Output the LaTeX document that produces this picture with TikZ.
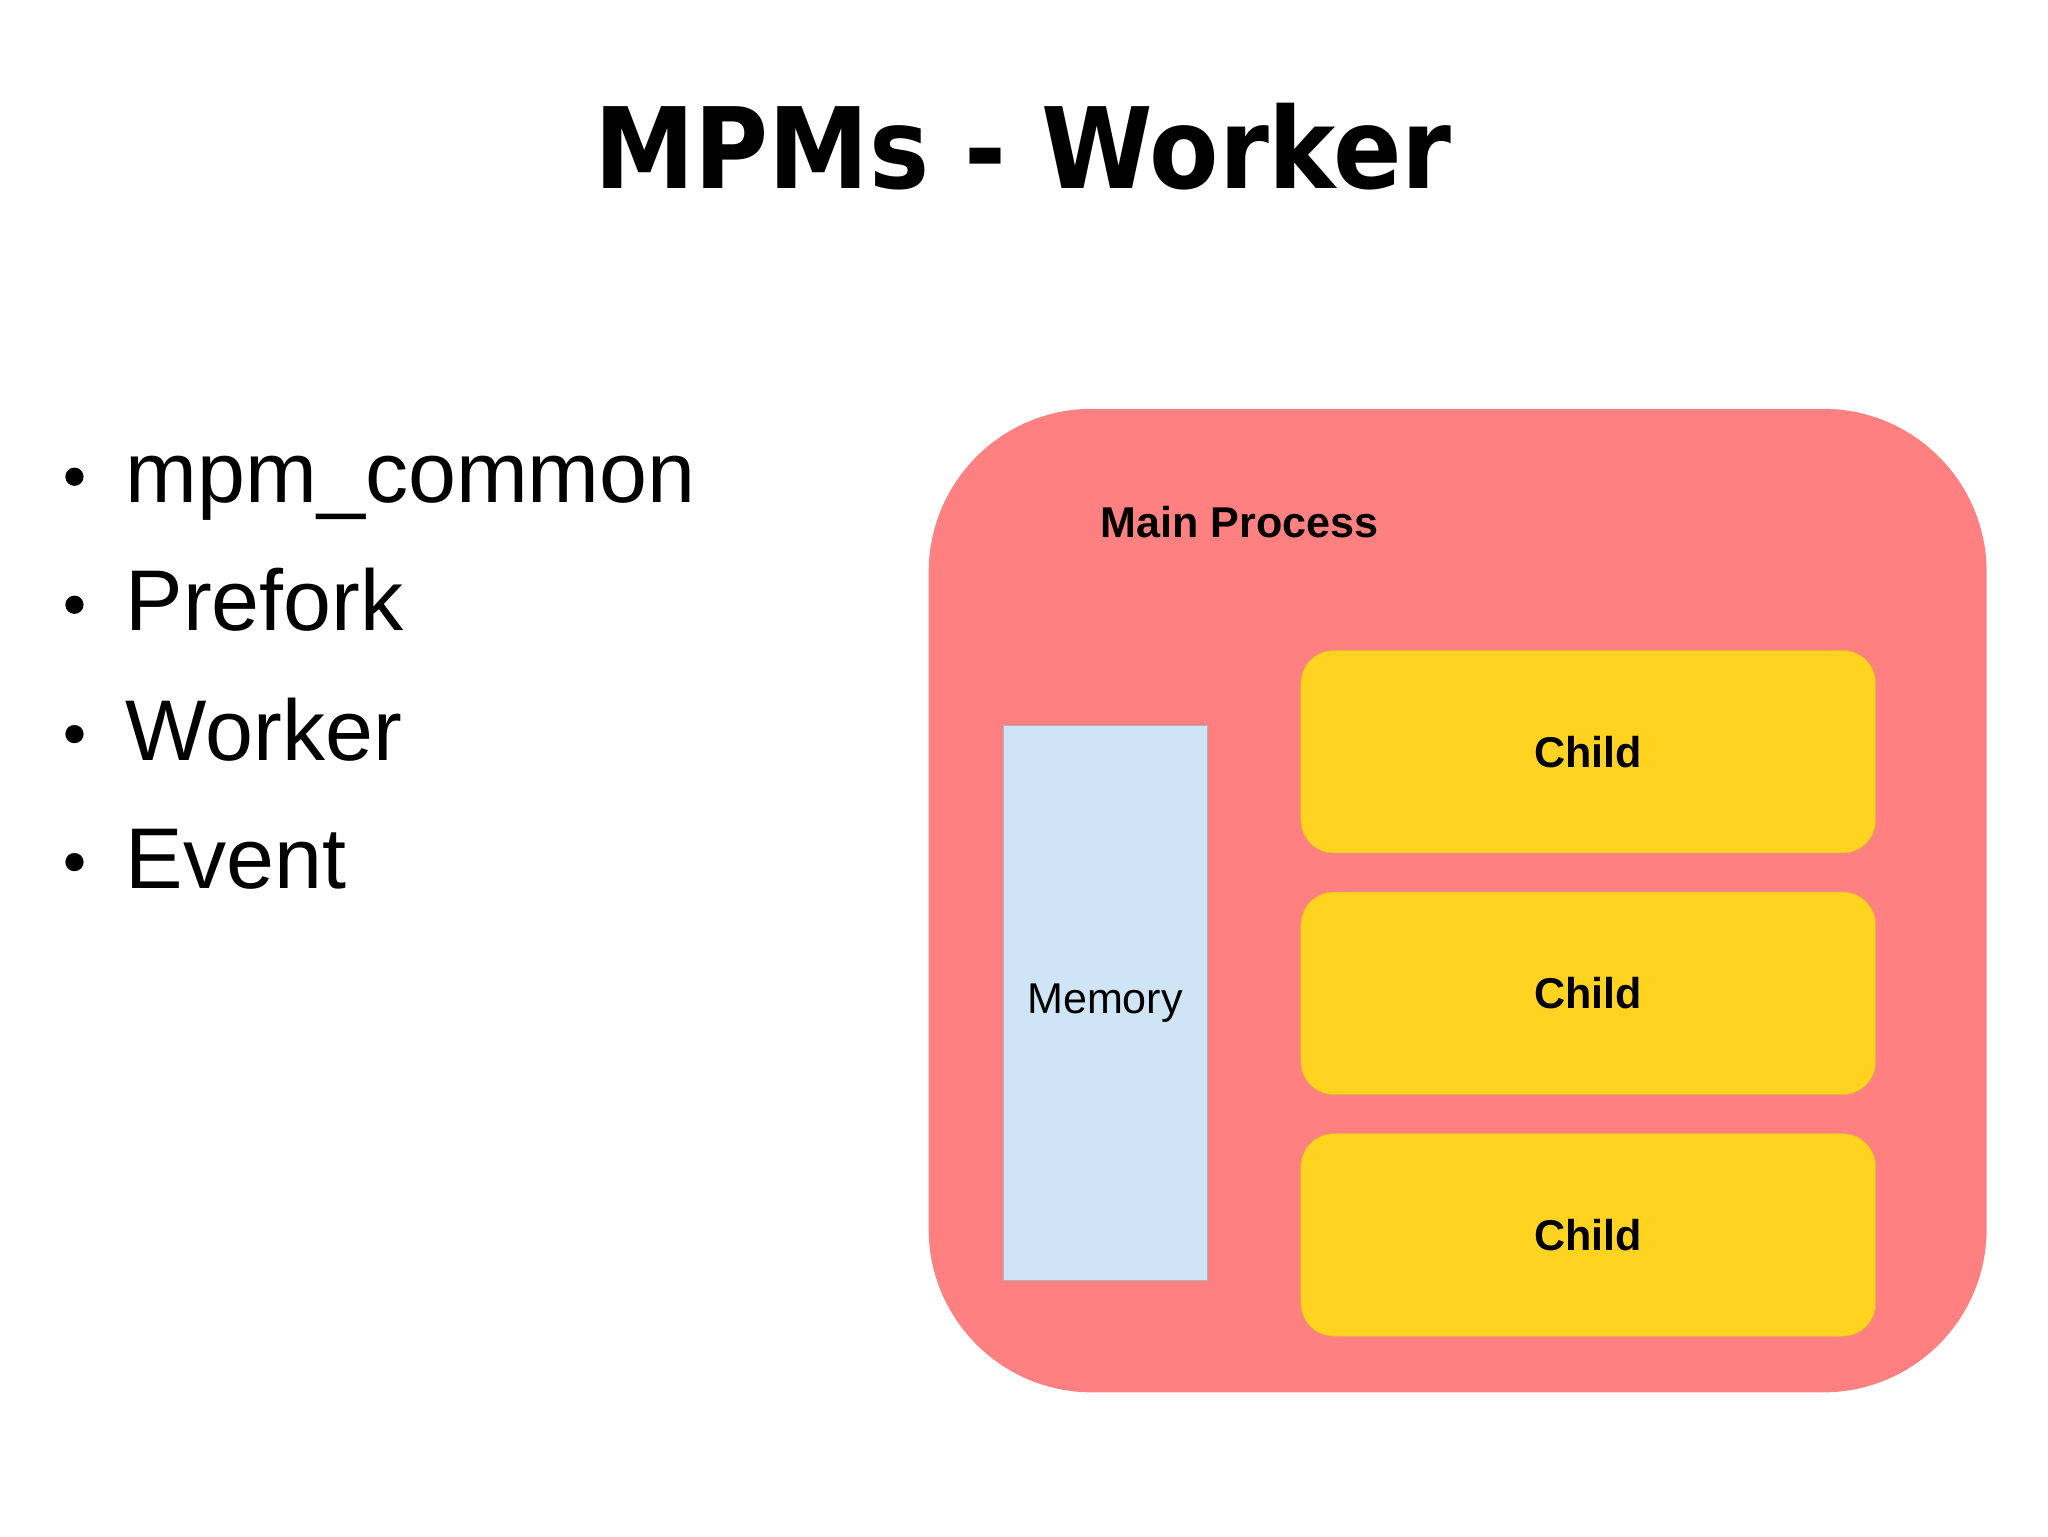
\documentclass[tikz,border=0pt]{standalone}
\usepackage{fontspec}
\setmainfont{Liberation Sans}
\newfontfamily\titlefont{DejaVu Sans Condensed Bold}
\definecolor{mainred}{RGB}{255,128,128}
\definecolor{childyel}{RGB}{255,211,32}
\definecolor{childedge}{RGB}{230,180,60}
\definecolor{memblue}{RGB}{207,229,245}
\begin{document}
\begin{tikzpicture}[x=1pt,y=-1pt,
  bul/.style={anchor=base west,font=\fontsize{66}{70}\selectfont,inner sep=0},
  childbox/.style={fill=childyel,draw=childedge,line width=0.5pt,rounded corners=25pt,minimum width=440pt,minimum height=155pt},
  lbl/.style={font=\bfseries\fontsize{33}{36}\selectfont}]
\useasboundingbox (0,0) rectangle (1568,1176);
\fill[white] (0,0) rectangle (1568,1176);
\node[font=\titlefont\fontsize{86}{90}\selectfont] (title) at (783,112) {MPMs - Worker};
\node[bul] (b1) at (96,385) {mpm\_common};
\node[bul] (b2) at (96,483) {Prefork};
\node[bul] (b3) at (96,582) {Worker};
\node[bul] (b4) at (96,680) {Event};
\foreach \y in {365,463,562,660} \fill (57,\y) circle (7pt);
\node[fill=mainred,rounded corners=125pt,minimum width=810pt,minimum height=753pt] (main) at (1116,689.5) {};
\node[lbl] (mp) at (949,400) {Main Process};
\node[fill=memblue,draw=gray!60,line width=0.5pt,minimum width=156pt,minimum height=425pt] (mem) at (846,767.5) {};
\node[font=\fontsize{33}{36}\selectfont] (memt) at (846,768) {Memory};
\node[childbox] (c1) at (1216,575.5) {};
\node[childbox] (c2) at (1216,760.5) {};
\node[childbox] (c3) at (1216,945.5) {};
\node[lbl] at (c1) {Child};
\node[lbl] at (c2) {Child};
\node[lbl] at (c3) {Child};
\end{tikzpicture}
\end{document}
